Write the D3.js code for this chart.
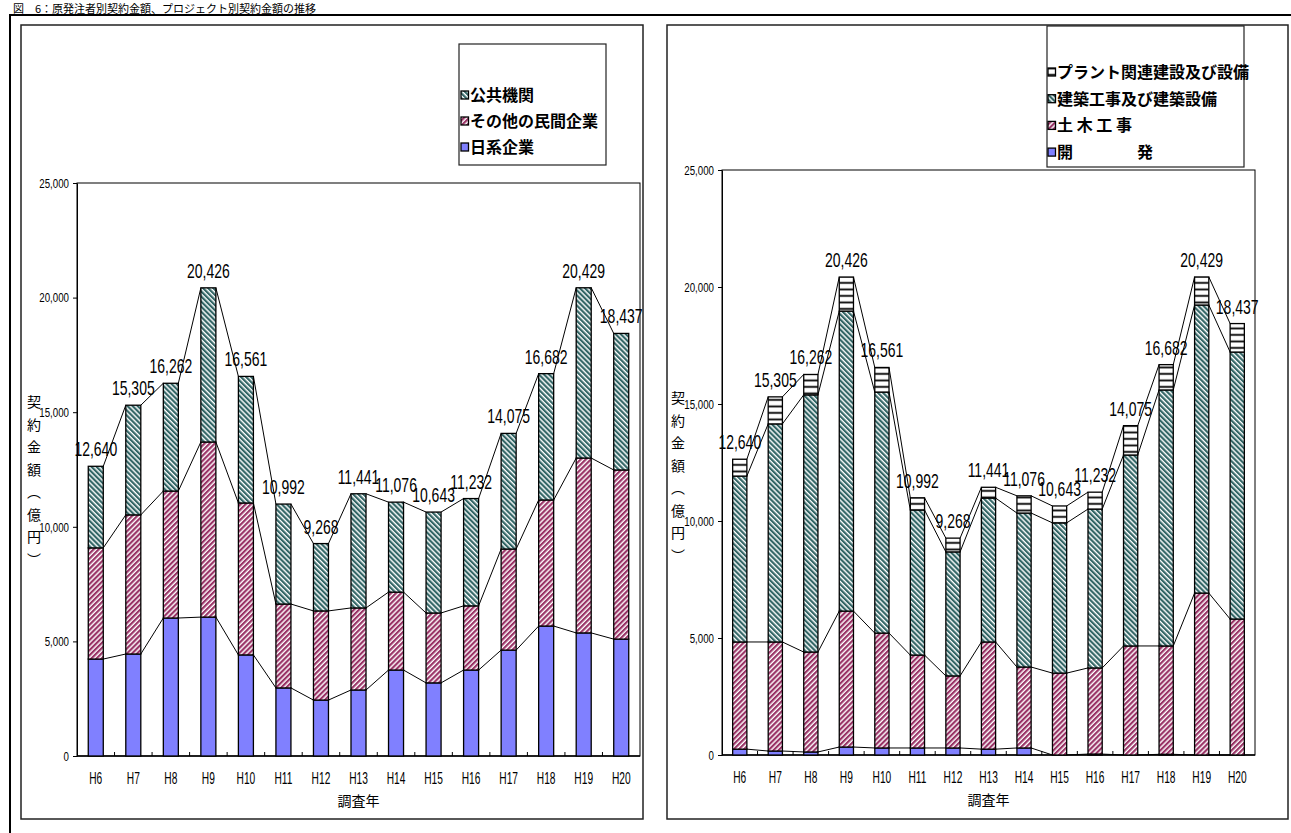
<!DOCTYPE html>
<html>
<head>
<meta charset="utf-8">
<script src="https://cdn.jsdelivr.net/npm/d3@7"></script>
<style>
  body { margin: 0; background: #fff; }
  svg { display: block; }
  .jp { font-family: "Noto Sans CJK JP", "Noto Sans", sans-serif; fill: #000; }
  .num { font-family: "Liberation Sans", Arial, sans-serif; fill: #000; }
</style>
</head>
<body>
<script>
// Chart data (億円)
var years = ["H6", "H7", "H8", "H9", "H10", "H11", "H12", "H13", "H14", "H15", "H16", "H17", "H18", "H19", "H20"];
var totals = [12640, 15305, 16262, 20426, 16561, 10992, 9268, 11441, 11076, 10643, 11232, 14075, 16682, 20429, 18437];
var yTicks = [0, 5000, 10000, 15000, 20000, 25000];

// left chart: by client
var japanese = [4230, 4450, 6020, 6060, 4410, 2970, 2440, 2880, 3750, 3190, 3750, 4620, 5670, 5370, 5100];
var otherPrivate = [4850, 6070, 5540, 7640, 6630, 3660, 3890, 3580, 3400, 3050, 2800, 4410, 5500, 7630, 7380];
var publicAgency = [3560, 4785, 4702, 6726, 5521, 4362, 2938, 4981, 3926, 4403, 4682, 5045, 5512, 7429, 5957];

// right chart: by project type
var development = [250, 170, 130, 340, 300, 300, 300, 250, 300, 0, 40, 0, 30, 0, 0];
var civil = [4580, 4660, 4270, 5810, 4910, 3970, 3080, 4580, 3460, 3500, 3680, 4660, 4630, 6920, 5810];
var building = [7090, 9320, 10990, 12820, 10300, 6200, 5300, 6150, 6580, 6420, 6790, 8160, 10940, 12310, 11410];
var plant = [720, 1155, 872, 1456, 1051, 522, 588, 461, 736, 723, 722, 1255, 1082, 1199, 1217];

var svg = d3.select("body").append("svg")
  .attr("width", 1291)
  .attr("height", 833);

// fill patterns
var defs = svg.append("defs");
function stripes(id, color, angle) {
  var p = defs.append("pattern")
    .attr("id", id)
    .attr("patternUnits", "userSpaceOnUse")
    .attr("width", 3.6).attr("height", 3.6)
    .attr("patternTransform", `rotate(${angle})`);
  p.append("rect").attr("width", 3.6).attr("height", 3.6).attr("fill", "#fff");
  p.append("rect").attr("width", 2.2).attr("height", 3.6).attr("fill", color);
}
stripes("pinkHatch", "#993366", 45);
stripes("greenHatch", "#336666", -45);
var hp = defs.append("pattern")
  .attr("id", "hLines")
  .attr("patternUnits", "userSpaceOnUse")
  .attr("width", 6).attr("height", 6.5);
hp.append("rect").attr("width", 6).attr("height", 6.5).attr("fill", "#fff");
hp.append("rect").attr("y", 2.5).attr("width", 6).attr("height", 1.8).attr("fill", "#000");

// page frame
svg.append("line").attr("x1", 9).attr("x2", 1291).attr("y1", 15).attr("y2", 15)
  .attr("stroke", "#000").attr("stroke-width", 2);
svg.append("line").attr("x1", 10).attr("x2", 10).attr("y1", 14).attr("y2", 833)
  .attr("stroke", "#000").attr("stroke-width", 2);

// title
svg.append("text").attr("class", "jp").attr("x", 13).attr("y", 12.5).style("font-size", "11px")
  .text("図　6：原発注者別契約金額、プロジェクト別契約金額の推移");

// squeezed text helper (the original font is narrow)
function narrow(g, x, y, str, size, sx, anchor) {
  return g.append("text")
    .attr("class", "num")
    .attr("transform", `translate(${x},${y}) scale(${sx},1)`)
    .attr("text-anchor", anchor)
    .style("font-size", size + "px")
    .text(str);
}

function drawChart(cfg) {
  var g = svg.append("g");

  // panel box
  g.append("rect")
    .attr("x", cfg.box[0]).attr("y", cfg.box[1])
    .attr("width", cfg.box[2] - cfg.box[0]).attr("height", cfg.box[3] - cfg.box[1])
    .attr("fill", "none").attr("stroke", "#222").attr("stroke-width", 1.5);

  var xScale = d3.scaleBand()
    .domain(years)
    .range([cfg.left, cfg.right])
    .paddingInner(0.6)
    .paddingOuter(0.3);
  var yScale = d3.scaleLinear()
    .domain([0, 25000])
    .range([cfg.bottom, cfg.top]);

  // plot frame
  g.append("rect")
    .attr("x", cfg.left).attr("y", cfg.top)
    .attr("width", cfg.right - cfg.left).attr("height", cfg.bottom - cfg.top)
    .attr("fill", "none").attr("stroke", "#000").attr("stroke-width", 1);

  // y axis
  var yAxis = g.append("g")
    .attr("transform", `translate(${cfg.left},0)`)
    .call(d3.axisLeft(yScale).tickValues(yTicks).tickSize(4).tickSizeOuter(0).tickFormat(d3.format(",")));
  yAxis.select(".domain").attr("stroke", "#000");
  yAxis.selectAll("text")
    .attr("class", "num")
    .attr("font-family", null)
    .style("font-size", "13.5px")
    .attr("x", -8 / 0.72)
    .attr("transform", "scale(0.72,1)");

  // x axis: baseline plus inner ticks on category boundaries
  g.append("line")
    .attr("x1", cfg.left).attr("x2", cfg.right)
    .attr("y1", cfg.bottom).attr("y2", cfg.bottom)
    .attr("stroke", "#000").attr("stroke-width", 1.5);
  var step = xScale.step();
  g.selectAll(".xtick").data(years.slice(1)).enter().append("line")
    .attr("x1", d => xScale(d) - step * 0.3).attr("x2", d => xScale(d) - step * 0.3)
    .attr("y1", cfg.bottom).attr("y2", cfg.bottom - 4)
    .attr("stroke", "#000");
  years.forEach(function(d) {
    narrow(g, xScale(d) + xScale.bandwidth() / 2, cfg.bottom + 28, d, 17, 0.6, "middle");
  });

  // axis titles
  g.append("text").attr("class", "jp")
    .attr("x", (cfg.left + cfg.right) / 2).attr("y", cfg.bottom + 50)
    .attr("text-anchor", "middle").style("font-size", "14px").text("調査年");
  var yTitle = ["契", "約", "金", "額", "︵", "億", "円", "︶"];
  yTitle.forEach(function(c, i) {
    g.append("text").attr("class", "jp")
      .attr("x", cfg.yTitleX).attr("y", cfg.yTitleY + i * 22.5)
      .attr("text-anchor", "middle").style("font-size", "14px").text(c);
  });

  // stacked bars
  var rows = years.map(function(y, i) {
    var r = { year: y };
    cfg.series.forEach(s => { r[s.key] = s.values[i]; });
    return r;
  });
  var stack = d3.stack().keys(cfg.series.map(s => s.key))(rows);
  var bw = xScale.bandwidth();

  stack.forEach(function(layer, li) {
    g.selectAll(".bar" + li).data(layer).enter().append("rect")
      .attr("x", d => xScale(d.data.year))
      .attr("y", d => yScale(d[1]))
      .attr("width", bw)
      .attr("height", d => yScale(d[0]) - yScale(d[1]))
      .attr("fill", cfg.series[li].fill)
      .attr("stroke", "#000")
      .attr("stroke-width", 1.3);
  });

  // series lines joining the segment tops
  stack.forEach(function(layer) {
    for (var i = 0; i < layer.length - 1; i++) {
      g.append("line")
        .attr("x1", xScale(layer[i].data.year) + bw)
        .attr("y1", yScale(layer[i][1]))
        .attr("x2", xScale(layer[i + 1].data.year))
        .attr("y2", yScale(layer[i + 1][1]))
        .attr("stroke", "#000").attr("stroke-width", 1);
    }
  });

  // total labels
  years.forEach(function(d, i) {
    narrow(g, xScale(d) + bw / 2, yScale(totals[i]) - 10, d3.format(",")(totals[i]), 20, 0.7, "middle");
  });

  // legend
  var lb = cfg.legendBox;
  g.append("rect")
    .attr("x", lb[0]).attr("y", lb[1])
    .attr("width", lb[2] - lb[0]).attr("height", lb[3] - lb[1])
    .attr("fill", "#fff").attr("stroke", "#222").attr("stroke-width", 1.2);
  cfg.legend.forEach(function(item, i) {
    var cy = cfg.legendY + i * cfg.legendStep;
    g.append("rect")
      .attr("x", cfg.legendX).attr("y", cy - 4)
      .attr("width", 7.5).attr("height", 8)
      .attr("fill", item.fill).attr("stroke", "#000").attr("stroke-width", 1.3);
    g.append("text").attr("class", "jp")
      .attr("x", cfg.legendX + 9).attr("y", cy + 6)
      .style("font-size", "16px").style("font-weight", "bold").text(item.label);
  });
}

drawChart({
  box: [21, 25, 643, 819],
  left: 77, right: 640, top: 183, bottom: 756,
  yTitleX: 34, yTitleY: 407,
  series: [
    { key: "japanese", values: japanese, fill: "#8080ff" },
    { key: "otherPrivate", values: otherPrivate, fill: "url(#pinkHatch)" },
    { key: "publicAgency", values: publicAgency, fill: "url(#greenHatch)" }
  ],
  legendBox: [459, 44, 606, 165],
  legendX: 461, legendY: 95, legendStep: 26,
  legend: [
    { label: "公共機関", fill: "url(#greenHatch)" },
    { label: "その他の民間企業", fill: "url(#pinkHatch)" },
    { label: "日系企業", fill: "#8080ff" }
  ]
});

drawChart({
  box: [667, 25, 1288, 819],
  left: 722, right: 1255, top: 170, bottom: 755,
  yTitleX: 678, yTitleY: 403,
  series: [
    { key: "development", values: development, fill: "#8080ff" },
    { key: "civil", values: civil, fill: "url(#pinkHatch)" },
    { key: "building", values: building, fill: "url(#greenHatch)" },
    { key: "plant", values: plant, fill: "url(#hLines)" }
  ],
  legendBox: [1047, 26, 1244, 167],
  legendX: 1048, legendY: 72, legendStep: 26.7,
  legend: [
    { label: "プラント関連建設及び設備", fill: "url(#hLines)" },
    { label: "建築工事及び建築設備", fill: "url(#greenHatch)" },
    { label: "土 木 工 事", fill: "url(#pinkHatch)" },
    { label: "開　　　　発", fill: "#8080ff" }
  ]
});
</script>
</body>
</html>
